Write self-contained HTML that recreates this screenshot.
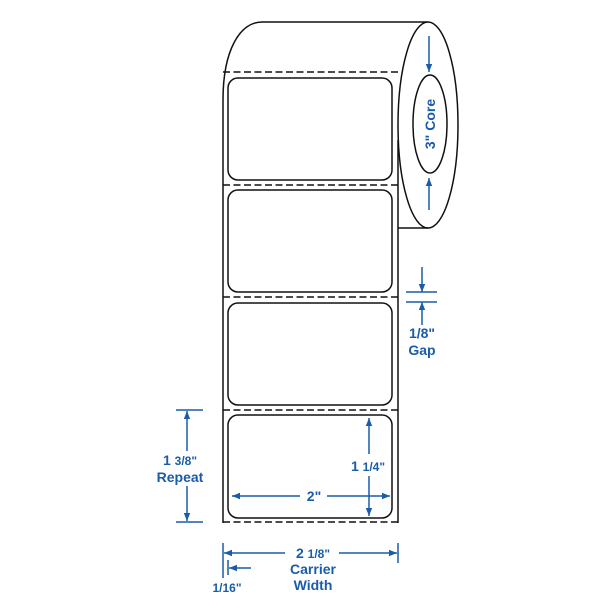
<!DOCTYPE html>
<html><head><style>body{margin:0;background:#fff}svg{display:block}</style></head><body>
<svg width="614" height="614" viewBox="0 0 614 614" xmlns="http://www.w3.org/2000/svg">
<defs>
<marker id="a" viewBox="0 0 10 10" refX="10" refY="5" markerWidth="9" markerHeight="8" orient="auto-start-reverse" markerUnits="userSpaceOnUse"><path d="M0,1 L10,5 L0,9 Z" fill="#1a5ca8"/></marker>
</defs>
<g fill="none" stroke="#111" stroke-width="1.5">
<path d="M223,523 L223,100 C223,50 240,22 262,22 L428,22"/>
<ellipse cx="428" cy="125" rx="30" ry="103" fill="#fff"/>
<ellipse cx="430" cy="124" rx="17" ry="49"/>
<path d="M398,228 L428,228"/>
<path d="M398,140 L398,523"/>
<g stroke-dasharray="7,3.5">
<path d="M223,72 L398,72 M223,185 L398,185 M223,297 L398,297 M223,410 L398,410 M223,522 L398,522"/>
</g>
<rect x="228" y="78" width="164" height="102" rx="10"/>
<rect x="228" y="190" width="164" height="102" rx="10"/>
<rect x="228" y="303" width="164" height="102" rx="10"/>
<rect x="228" y="415" width="164" height="103" rx="10"/>
</g>
<g stroke="#1a5ca8" stroke-width="1.5" fill="none">
<path d="M429,36 L429,72" marker-end="url(#a)"/>
<path d="M429,210 L429,178" marker-end="url(#a)"/>
<path d="M406,292 L437,292 M406,302 L437,302"/>
<path d="M422,267 L422,292" marker-end="url(#a)"/>
<path d="M422,325 L422,302" marker-end="url(#a)"/>
<path d="M176,410 L203,410 M176,522 L203,522"/>
<path d="M187,451 L187,411" marker-end="url(#a)"/>
<path d="M187,486 L187,521" marker-end="url(#a)"/>
<path d="M369,454 L369,418" marker-end="url(#a)"/>
<path d="M369,476 L369,516" marker-end="url(#a)"/>
<path d="M300,496 L232,496" marker-end="url(#a)"/>
<path d="M327,496 L390,496" marker-end="url(#a)"/>
<path d="M223,543 L223,578 M398,543 L398,563 M228,560 L228,575"/>
<path d="M285,553 L224,553" marker-end="url(#a)"/>
<path d="M339,553 L397,553" marker-end="url(#a)"/>
<path d="M251,568 L229,568" marker-end="url(#a)"/>
</g>
<g fill="#1a5ca8" font-family="Liberation Sans, sans-serif" font-weight="bold" font-size="14" text-anchor="middle">
<text transform="translate(435,124) rotate(-90)">3" Core</text>
<text x="422" y="338">1/8"</text>
<text x="422" y="355">Gap</text>
<text x="180" y="465">1 <tspan font-size="12">3/8"</tspan></text>
<text x="180" y="482">Repeat</text>
<text x="368" y="471">1 <tspan font-size="12">1/4"</tspan></text>
<text x="314" y="501">2"</text>
<text x="313" y="558">2 <tspan font-size="12">1/8"</tspan></text>
<text x="313" y="574">Carrier</text>
<text x="313" y="590">Width</text>
<text x="227" y="592" font-size="12">1/16"</text>
</g>
</svg>
</body></html>
